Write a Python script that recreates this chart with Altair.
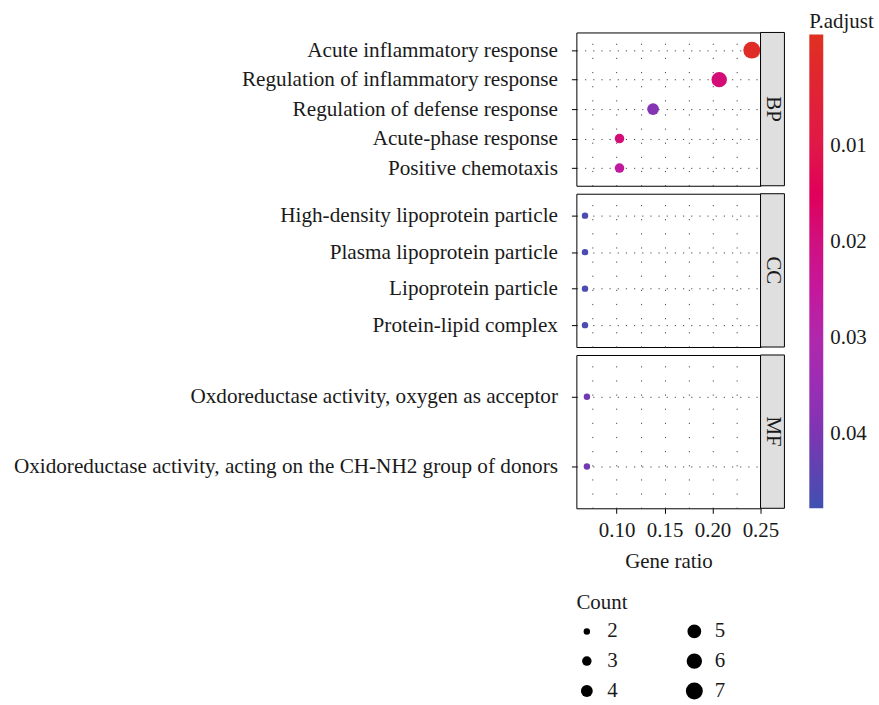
import altair as alt
import pandas as pd

FONT = "Liberation Serif"
FS = 21

# ---- data ----
bp_terms = [
    "Acute inflammatory response",
    "Regulation of inflammatory response",
    "Regulation of defense response",
    "Acute-phase response",
    "Positive chemotaxis",
]
bp_ratio = [0.241, 0.207, 0.138, 0.103, 0.103]
bp_padj = [0.0002, 0.0188, 0.0385, 0.0186, 0.0255]
bp_count = [7, 6, 4, 3, 3]

cc_terms = [
    "High-density lipoprotein particle",
    "Plasma lipoprotein particle",
    "Lipoprotein particle",
    "Protein-lipid complex",
]
cc_ratio = [0.067, 0.067, 0.067, 0.067]
cc_padj = [0.0464, 0.0464, 0.0464, 0.0464]
cc_count = [2, 2, 2, 2]

mf_terms = [
    "Oxdoreductase activity, oxygen as acceptor",
    "Oxidoreductase activity, acting on the CH-NH2 group of donors",
]
mf_ratio = [0.069, 0.069]
mf_padj = [0.0415, 0.0415]
mf_count = [2, 2]

ontologies = ["BP", "CC", "MF"]

x_grid_values = [0.075, 0.10, 0.125, 0.15, 0.175, 0.20, 0.225, 0.25]
x_domain = [0.058, 0.2501]

# colour scale stops (P.adjust) and colours, low p = red
color_stops = [-0.0016, 0.01, 0.015, 0.02, 0.025, 0.03, 0.035, 0.04, 0.0477]
color_range = ["#e03020", "#e01848", "#e0005a", "#d01080", "#c4189c",
               "#b028ac", "#9a2eb4", "#7c36b2", "#4050b0"]
color_ticks = [0.01, 0.02, 0.03, 0.04]

count_domain = [2, 7]
count_legend_values = [2, 3, 4, 5, 6, 7]

groups = [
    ("BP", bp_terms, bp_ratio, bp_padj, bp_count),
    ("CC", cc_terms, cc_ratio, cc_padj, cc_count),
    ("MF", mf_terms, mf_ratio, mf_padj, mf_count),
]

W = 185
H = 154
STRIP = 24

# the vertical gradient legend puts larger values on top, so the colour is
# encoded on the negated P.adjust and the labels are negated back
neg_stops = [-v for v in reversed(color_stops)]
neg_range = list(reversed(color_range))
neg_ticks = [-v for v in reversed(color_ticks)]

major_test = "abs(datum.value*20 - round(datum.value*20)) < 0.001"

color_legend = alt.Legend(
    title="P.adjust", orient="none", legendX=234, legendY=-21,
    values=neg_ticks, labelExpr="format(-datum.value, '.2f')",
    gradientLength=476, gradientThickness=14,
    direction="vertical", titlePadding=2, labelOffset=7,
)
size_legend = alt.Legend(
    title="Count", orient="none", legendX=0, legendY=562, columns=2,
    values=count_legend_values, columnPadding=66, rowPadding=8,
    symbolFillColor="black", symbolStrokeWidth=0, symbolType="circle",
    labelOffset=10, titlePadding=8, direction="vertical",
)

panels = []
for ont, terms, ratio, padj, count in groups:
    d = pd.DataFrame({"term": terms, "ratio": ratio, "padj": padj, "count": count,
                      "ontology": ont})
    last = ont == "MF"
    if last:
        xaxis = alt.Axis(
            values=x_grid_values, title="Gene ratio", grid=True, gridDash=[1.2, 13],
            labelExpr=f"({major_test}) ? format(datum.value, '.2f') : ''",
            tickOpacity={"condition": {"test": major_test, "value": 1}, "value": 0},
            labelFlush=False, labelOverlap=False, tickSize=5, labelPadding=6,
            titlePadding=10,
        )
    else:
        xaxis = alt.Axis(values=x_grid_values, title=None, grid=True, gridDash=[1.2, 13],
                         labels=False, ticks=False)
    pts = alt.Chart(d).transform_calculate(
        neg_padj="-datum.padj"
    ).mark_circle(opacity=1).encode(
        x=alt.X("ratio:Q", scale=alt.Scale(domain=x_domain, nice=False, zero=False),
                axis=xaxis),
        y=alt.Y("term:N", sort=terms,
                scale=alt.Scale(type="point", padding=0.6),
                axis=alt.Axis(title=None, grid=True, gridDash=[1.2, 7], tickSize=5,
                              labelPadding=14, labelLimit=0, labelFontSize=21.3)),
        color=alt.Color("neg_padj:Q",
                        scale=alt.Scale(domain=neg_stops, range=neg_range,
                                        interpolate="rgb"),
                        legend=color_legend),
        size=alt.Size("count:Q", scale=alt.Scale(domain=count_domain, range=[42, 290]),
                      legend=size_legend),
        tooltip=["term:N", "ratio:Q", "padj:Q", "count:Q"],
    )
    sd = pd.DataFrame({"ontology": [ont]})
    strip = alt.Chart(sd).mark_rect(fill="#e0dfe0", stroke="black", strokeWidth=1).encode(
        x=alt.value(W), x2=alt.value(W + STRIP), y=alt.value(0), y2=alt.value(H)
    )
    strip_text = alt.Chart(sd).mark_text(angle=90, font=FONT, fontSize=FS,
                                          color="#1a1a1a").encode(
        x=alt.value(W + STRIP / 2), y=alt.value(H / 2), text="ontology:N"
    )
    panels.append(alt.layer(pts, strip, strip_text).properties(width=W, height=H))

chart = alt.vconcat(*panels, spacing=6).resolve_scale(
    x="independent", y="independent", color="shared", size="shared"
).properties(
    padding={"left": 12, "top": 10, "right": 5, "bottom": 3},
    background="white",
).configure_view(
    stroke="black", strokeWidth=1
).configure_axis(
    labelFont=FONT, titleFont=FONT, labelFontSize=FS, titleFontSize=FS,
    labelColor="#1a1a1a", titleColor="#1a1a1a", titleFontWeight="normal",
    tickColor="black", tickWidth=1, domain=False,
    gridColor="#333333", gridWidth=0.9,
).configure_legend(
    labelFont=FONT, titleFont=FONT, labelFontSize=FS, titleFontSize=FS,
    labelColor="#1a1a1a", titleColor="#1a1a1a", titleFontWeight="normal",
    padding=0,
)

chart.save("out.html", embed_options={"renderer": "svg", "actions": False})
